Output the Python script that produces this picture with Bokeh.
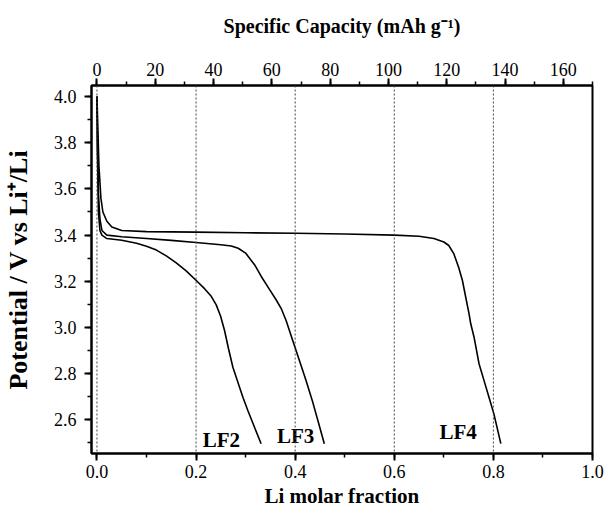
from bokeh.plotting import figure
from bokeh.models import (Range1d, LinearAxis, SingleIntervalTicker, PrintfTickFormatter,
                          Span, ColumnDataSource)
from bokeh.core.properties import value
from bokeh.embed import file_html
from bokeh.resources import INLINE

# ---- data ----
lf2_x = [0.0, 0.001, 0.003, 0.006, 0.01, 0.02, 0.05, 0.08, 0.10, 0.12, 0.14, 0.16, 0.18, 0.2004,
         0.2171, 0.2306, 0.2407, 0.2494, 0.2575, 0.2655, 0.2743, 0.2844, 0.2945, 0.3045, 0.3179,
         0.3313]
lf2_v = [4.0, 3.75, 3.50, 3.42, 3.40, 3.385, 3.378, 3.365, 3.352, 3.335, 3.31, 3.28, 3.245, 3.2035,
         3.168, 3.135, 3.098, 3.050, 2.987, 2.908, 2.828, 2.763, 2.698, 2.641, 2.568, 2.497]

lf3_x = [0.0, 0.001, 0.003, 0.006, 0.01, 0.02, 0.05, 0.10, 0.15, 0.20, 0.25, 0.271, 0.285, 0.30,
         0.318, 0.3313, 0.3481, 0.3615, 0.3716, 0.3817, 0.3917, 0.4018, 0.4119, 0.4219, 0.4354,
         0.4468, 0.4588]
lf3_v = [4.0, 3.80, 3.58, 3.47, 3.42, 3.40, 3.393, 3.385, 3.377, 3.368, 3.358, 3.353, 3.343, 3.322,
         3.272, 3.222, 3.165, 3.12, 3.083, 3.030, 2.965, 2.900, 2.835, 2.771, 2.677, 2.590, 2.497]

lf4_x = [0.0, 0.002, 0.004, 0.008, 0.012, 0.02, 0.03, 0.05, 0.10, 0.20, 0.30, 0.40, 0.50, 0.60,
         0.65, 0.68, 0.70, 0.71, 0.72, 0.73, 0.7375, 0.7442, 0.7509, 0.7543, 0.761, 0.771, 0.781,
         0.7911, 0.801, 0.815]
lf4_v = [4.0, 3.85, 3.70, 3.56, 3.50, 3.46, 3.435, 3.42, 3.415, 3.413, 3.41, 3.408, 3.405, 3.40,
         3.395, 3.385, 3.37, 3.355, 3.32, 3.26, 3.2035, 3.131, 3.059, 3.016, 2.958, 2.843, 2.771,
         2.698, 2.626, 2.497]

label_text = ["LF2", "LF3", "LF4"]
label_x = [0.251, 0.401, 0.729]
label_v = [2.511, 2.532, 2.547]

ref_x = [0.0, 0.2, 0.4, 0.6, 0.8]          # dotted reference lines
capacity_per_fraction = 170.0              # mAh/g for x = 1 (top axis)
x_lo, x_hi = -0.011, 1.0
y_lo, y_hi = 2.4545, 4.0476

FONT = "Liberation Serif"

p = figure(width=606, height=513, output_backend="svg", toolbar_location=None,
           x_range=Range1d(x_lo, x_hi), y_range=Range1d(y_lo, y_hi),
           min_border_left=90, min_border_right=14, min_border_top=85, min_border_bottom=60,
           x_axis_location=None, y_axis_location=None)
p.xgrid.visible = False
p.ygrid.visible = False
p.outline_line_color = "black"
p.outline_line_width = 2
p.background_fill_color = "white"
p.border_fill_color = "white"

p.extra_x_ranges = {"cap": Range1d(x_lo * capacity_per_fraction, x_hi * capacity_per_fraction)}


def style(ax, label, label_size, std_label, std_tick):
    ax.axis_label = label
    ax.axis_label_text_font = FONT
    ax.axis_label_text_font_style = "bold"
    ax.axis_label_text_font_size = label_size
    ax.axis_label_text_color = "black"
    ax.axis_label_standoff = std_label
    ax.major_label_text_font = FONT
    ax.major_label_text_font_size = "18px"
    ax.major_label_text_color = "black"
    ax.major_label_standoff = std_tick
    ax.axis_line_width = 2
    ax.axis_line_color = "black"
    ax.major_tick_line_width = 2
    ax.major_tick_line_color = "black"
    ax.minor_tick_line_width = 1.5
    ax.minor_tick_line_color = "black"
    ax.major_tick_out = 7
    ax.major_tick_in = 0
    ax.minor_tick_out = 4
    ax.minor_tick_in = 0


xb = LinearAxis(ticker=SingleIntervalTicker(interval=0.2, num_minor_ticks=2),
                formatter=PrintfTickFormatter(format="%.1f"))
style(xb, "Li molar fraction", "21px", 3, 4)
p.add_layout(xb, "below")

yl = LinearAxis(ticker=SingleIntervalTicker(interval=0.2, num_minor_ticks=2),
                formatter=PrintfTickFormatter(format="%.1f"))
style(yl, "Potential / V vs Li⁺/Li", "26px", 18, 8)
p.add_layout(yl, "left")

xt = LinearAxis(x_range_name="cap", ticker=SingleIntervalTicker(interval=20, num_minor_ticks=2),
                formatter=PrintfTickFormatter(format="%d"))
style(xt, "Specific Capacity (mAh g⁻¹)", "20px", 23, 3)
p.add_layout(xt, "above")

for xv in ref_x:
    p.add_layout(Span(location=xv, dimension="height", line_color="#444444",
                      line_width=1, line_dash="2 2"))

for xs, vs in ((lf2_x, lf2_v), (lf3_x, lf3_v), (lf4_x, lf4_v)):
    p.line(xs, vs, line_color="black", line_width=1.6)

src = ColumnDataSource(dict(x=label_x, y=label_v, t=label_text))
p.text(x="x", y="y", text="t", source=src, text_font=value(FONT), text_font_style="bold",
       text_font_size="21px", text_align="center", text_baseline="alphabetic", text_color="black")

open("out.html", "w").write(file_html(p, INLINE))
